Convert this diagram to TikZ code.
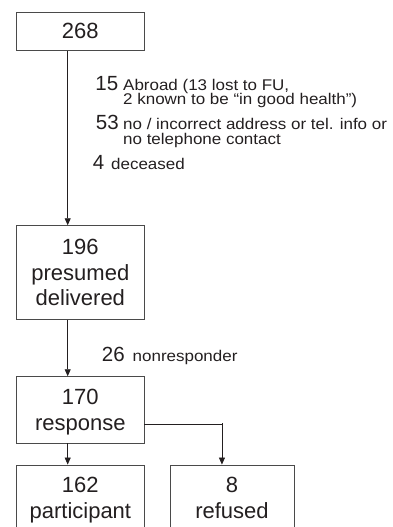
\documentclass[tikz,border=0pt]{standalone}
\usepackage{fontspec}
\setmainfont{Liberation Sans}
\newfontfamily\notefont[FakeStretch=1.095]{Liberation Sans}
\usetikzlibrary{arrows.meta}
\definecolor{ink}{HTML}{231F20}
\definecolor{frame}{HTML}{4A4A4A}
\tikzset{
  x=1pt, y=-1pt,
  box/.style={draw=frame, line width=0.9pt, text=ink, align=center,
    font=\fontsize{22}{25.7}\selectfont, inner sep=0pt},
  arr/.style={draw=ink, line width=0.8pt, -{Triangle[length=7pt,width=6pt]}},
  conn/.style={draw=ink, line width=0.8pt},
  num/.style={text=ink, font=\fontsize{20.5}{22}\selectfont, anchor=base east, inner sep=0pt},
  note/.style={text=ink, font=\notefont\fontsize{15.5}{16}\selectfont, anchor=base west, inner sep=0pt}
}
\begin{document}
\begin{tikzpicture}
\useasboundingbox (0,0) rectangle (393,527);
% boxes
\node[box, minimum width=127.3pt, minimum height=38.7pt] (b268) at (80.35,31.35) {268};
\node[box, minimum width=127.3pt, minimum height=93.6pt] (b196) at (80.35,272.5) {196\\presumed\\delivered};
\node[box, minimum width=127.3pt, minimum height=66.3pt, text depth=0pt] (b170) at (80.35,409.85) {170\\response};
\node[box, minimum width=127.3pt, minimum height=66.3pt, text depth=0pt] (b162) at (80.35,498.15) {162\\participant};
\node[box, minimum width=124pt, minimum height=66.3pt, text depth=0pt] (b8) at (232,498.15) {8\\refused};
% connectors
\draw[arr] ([xshift=-12.65pt]b268.south) -- ([xshift=-12.65pt]b196.north);
\draw[arr] ([xshift=-12.65pt]b196.south) -- ([xshift=-12.65pt]b170.north);
\draw[arr] ([xshift=-12.65pt]b170.south) -- ([xshift=-12.65pt]b162.north);
\draw[conn] ([yshift=-14.85pt]b170.east) -- ([yshift=-14.85pt,xshift=77.5pt]b170.east) coordinate (corner);
\draw[arr] ([yshift=1.5pt]corner) -- (corner |- b8.north);
% annotations
\node[num] (n15) at (118.5,90) {15};
\node[note] (t15a) at (123,90) {Abroad (13 lost to FU,};
\node[note] (t15b) at (123,104.5) {2 known to be “in good health”)};
\node[num] (n53) at (119,129.5) {53};
\node[note] (t53a) at (123,129.5) {no / incorrect address or tel. info or};
\node[note] (t53b) at (123,144) {no telephone contact};
\node[num] (n4) at (104.5,169.5) {4};
\node[note] (t4) at (111,169.5) {deceased};
\node[num] (n26) at (125,361.5) {26};
\node[note] (t26) at (132.5,361.5) {nonresponder};
\end{tikzpicture}
\end{document}
